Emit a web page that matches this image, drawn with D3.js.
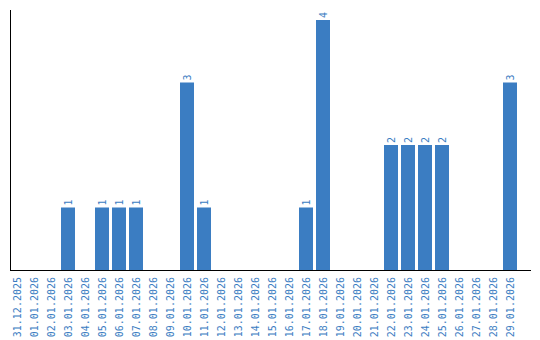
<!DOCTYPE html>
<html lang="en">
<head>
<meta charset="utf-8">
<title>Daily counts</title>
<script src="https://cdn.jsdelivr.net/npm/d3@7"></script>
<style>
  body { margin: 0; background: #fff; }
  .lbl { font-family: "DejaVu Sans Mono", monospace; font-size: 10px; fill: #3b7dc2; }
</style>
</head>
<body>
<script>
// dates on the x axis
var dates = ["31.12.2025","01.01.2026","02.01.2026","03.01.2026","04.01.2026","05.01.2026",
  "06.01.2026","07.01.2026","08.01.2026","09.01.2026","10.01.2026","11.01.2026","12.01.2026",
  "13.01.2026","14.01.2026","15.01.2026","16.01.2026","17.01.2026","18.01.2026","19.01.2026",
  "20.01.2026","21.01.2026","22.01.2026","23.01.2026","24.01.2026","25.01.2026","26.01.2026",
  "27.01.2026","28.01.2026","29.01.2026"];
var counts = [0,0,0,1,0,1,1,1,0,0,3,1,0,0,0,0,0,1,4,0,0,0,2,2,2,2,0,0,0,3];

var w = 540, h = 340;
var svg = d3.select("body").append("svg").attr("width", w).attr("height", h);

var x = d3.scaleBand().domain(dates).range([10, 517])
  .paddingInner(3 / 17).paddingOuter(0);
var y = d3.scaleLinear().domain([0, 4]).range([270, 20]);

var data = dates.map(function(d, i) { return {date: d, v: counts[i]}; });

svg.selectAll("rect.bar")
  .data(data.filter(function(d) { return d.v > 0; }))
  .enter().append("rect")
  .attr("class", "bar")
  .attr("x", function(d) { return x(d.date); })
  .attr("y", function(d) { return y(d.v); })
  .attr("width", x.bandwidth())
  .attr("height", function(d) { return y(0) - y(d.v); })
  .attr("fill", "#3b7dc2");

// value labels above the bars
svg.selectAll("text.val")
  .data(data.filter(function(d) { return d.v > 0; }))
  .enter().append("text")
  .attr("class", "lbl")
  .attr("text-anchor", "start")
  .attr("transform", function(d) {
    return "translate(" + (x(d.date) + x.bandwidth() / 2 + 3.5) + "," + (y(d.v) - 2) + ") rotate(-90)";
  })
  .text(function(d) { return d.v; });

// axes lines
svg.append("line").attr("x1", 10.5).attr("x2", 10.5).attr("y1", 10).attr("y2", 270.5)
  .attr("stroke", "#000");
svg.append("line").attr("x1", 10).attr("x2", 531).attr("y1", 270.5).attr("y2", 270.5)
  .attr("stroke", "#000");

// date labels
svg.selectAll("text.date")
  .data(dates)
  .enter().append("text")
  .attr("class", "lbl")
  .attr("text-anchor", "end")
  .attr("transform", function(d) {
    return "translate(" + (x(d) + x.bandwidth() / 2 + 3.5) + ",277) rotate(-90)";
  })
  .text(function(d) { return d; });
</script>
</body>
</html>
